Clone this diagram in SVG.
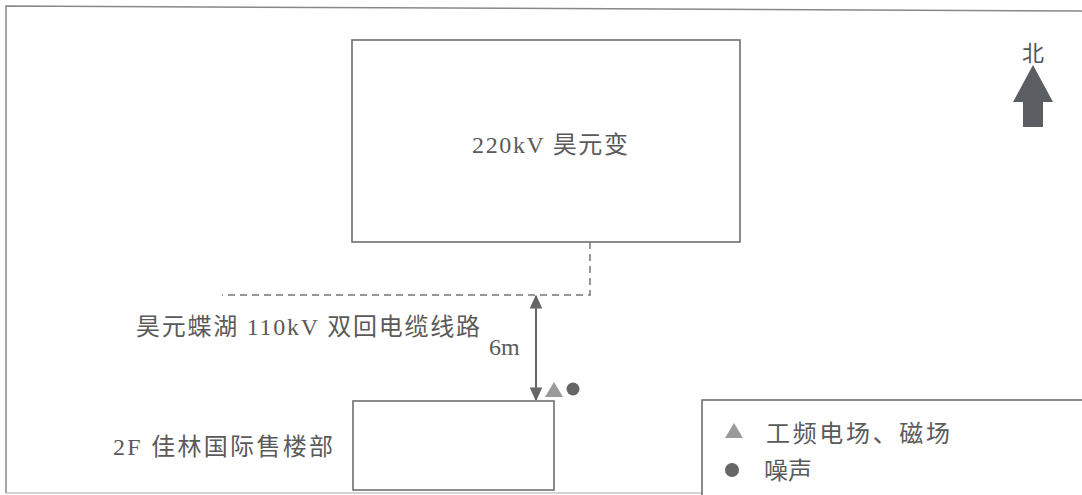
<svg xmlns="http://www.w3.org/2000/svg" width="1082" height="495" viewBox="0 0 1082 495">
<style>
.box{fill:#fff;stroke:#6e6e6e;stroke-width:1.6}
.t{font-family:"Liberation Serif","Noto Sans CJK SC",serif;fill:#5a5a5a;font-size:24px}
.dash{fill:none;stroke:#777;stroke-width:1.5;stroke-dasharray:7,5}
</style>
<defs>
<marker id="ah" viewBox="0 0 10 10" refX="9" refY="5" markerUnits="userSpaceOnUse" markerWidth="14" markerHeight="14" orient="auto-start-reverse"><path d="M0,0.5L10,5L0,9.5z" fill="#666"/></marker>
</defs>
<rect width="1082" height="495" fill="#fff"/>
<g id="frame"><path d="M6,493 L6,6 L1082,11" fill="none" stroke="#888" stroke-width="1.5"/><line x1="6" y1="493" x2="1082" y2="493" stroke="#aaa" stroke-width="1"/></g>
<g id="substation"><rect class="box" x="352" y="40" width="388" height="202"/><text class="t" x="472" y="153" textLength="156" lengthAdjust="spacing">220kV 昊元变</text></g>
<g id="connectors">
<path class="dash" d="M590,242 L590,295 L222,295"/>
<line x1="536" y1="296" x2="536" y2="400" stroke="#666" stroke-width="2" marker-start="url(#ah)" marker-end="url(#ah)"/>
</g>
<g id="cable-label"><text class="t" x="136" y="335" textLength="344" lengthAdjust="spacing">昊元蝶湖 110kV 双回电缆线路</text><text class="t" x="489" y="355" font-size="19">6m</text></g>
<g id="points"><path d="M545,397 L554,382 L563,397z" fill="#9a9a9a"/><circle cx="573" cy="389" r="6.5" fill="#666"/></g>
<g id="saleshouse"><rect class="box" x="353" y="401" width="201" height="89"/><text class="t" x="113" y="455" textLength="220" lengthAdjust="spacing">2F 佳林国际售楼部</text></g>
<g id="legend"><rect class="box" x="702" y="400" width="390" height="100"/>
<path d="M725,438 L734,423 L743,438z" fill="#9a9a9a"/><text class="t" x="766" y="442" font-size="22" textLength="184" lengthAdjust="spacing">工频电场、磁场</text>
<circle cx="732" cy="470" r="7" fill="#666"/><text class="t" x="764" y="479" font-size="22" textLength="48" lengthAdjust="spacing">噪声</text></g>
<g id="north"><text x="1033" y="61" text-anchor="middle" font-family="'Noto Sans CJK SC',sans-serif" font-size="22" fill="#555">北</text>
<path d="M1033,65 L1053,102 L1043,102 L1043,127 L1023,127 L1023,102 L1013,102z" fill="#5a5e63"/></g>
</svg>
